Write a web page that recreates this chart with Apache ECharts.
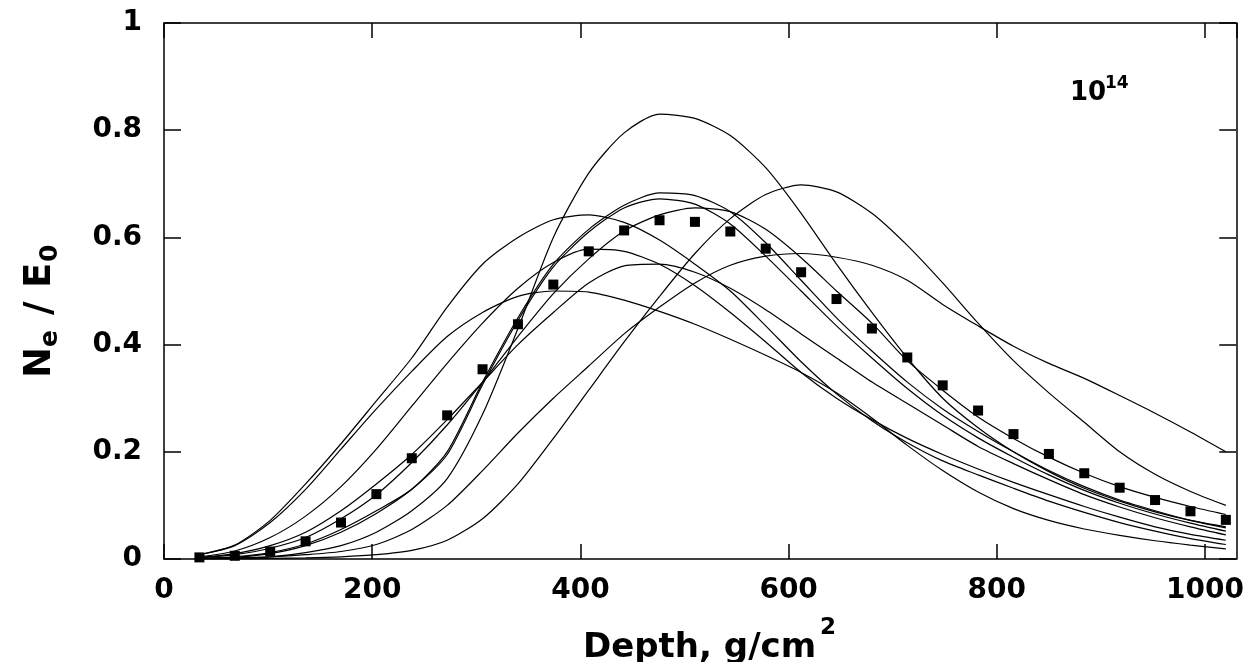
<!DOCTYPE html>
<html><head><meta charset="utf-8">
<script src="https://cdn.jsdelivr.net/npm/echarts@6/dist/echarts.min.js"></script>
<style>html,body{margin:0;padding:0;background:#fff}#c{width:1247px;height:662px}</style>
</head><body><div id="c"></div>
<script>
// depth grid, g/cm^2
const depth = [34,68,102,136,170,204,238,272,306,340,374,408,442,476,510,544,578,612,646,680,714,748,782,816,850,884,918,952,986,1020];
// square markers
const squares = [0.003,0.006,0.014,0.033,0.068,0.121,0.188,0.268,0.354,0.438,0.512,0.574,0.613,0.632,0.629,0.611,0.579,0.535,0.485,0.430,0.376,0.324,0.277,0.233,0.196,0.160,0.133,0.110,0.089,0.073];
// thin curves
const curveA = [0,0.001,0.004,0.012,0.025,0.05,0.09,0.15,0.27,0.43,0.6,0.72,0.795,0.83,0.822,0.79,0.73,0.645,0.55,0.46,0.375,0.3,0.245,0.2,0.163,0.132,0.108,0.088,0.072,0.06];
const curveB = [0,0,0.001,0.002,0.004,0.008,0.016,0.035,0.075,0.14,0.225,0.315,0.405,0.49,0.57,0.635,0.68,0.698,0.685,0.645,0.585,0.515,0.44,0.37,0.31,0.255,0.2,0.158,0.126,0.10];
const curveC = [0.001,0.004,0.012,0.028,0.055,0.09,0.13,0.2,0.33,0.45,0.55,0.615,0.66,0.683,0.678,0.648,0.59,0.52,0.45,0.388,0.33,0.28,0.238,0.2,0.165,0.135,0.11,0.09,0.072,0.058];
const curveD = [0.001,0.003,0.01,0.025,0.05,0.085,0.13,0.195,0.325,0.445,0.545,0.61,0.655,0.672,0.662,0.625,0.565,0.5,0.435,0.375,0.318,0.268,0.226,0.19,0.157,0.128,0.104,0.084,0.067,0.052];
const curveE = [0.002,0.008,0.02,0.04,0.075,0.12,0.18,0.25,0.33,0.415,0.495,0.56,0.612,0.642,0.655,0.648,0.615,0.562,0.5,0.44,0.37,0.315,0.265,0.225,0.19,0.16,0.135,0.115,0.098,0.083];
const curveF = [0.008,0.026,0.072,0.14,0.215,0.295,0.375,0.47,0.55,0.6,0.633,0.642,0.628,0.595,0.55,0.5,0.435,0.368,0.308,0.258,0.217,0.183,0.157,0.132,0.108,0.087,0.068,0.052,0.038,0.027];
const curveG = [0.004,0.015,0.04,0.08,0.135,0.205,0.285,0.365,0.44,0.505,0.553,0.578,0.574,0.55,0.51,0.46,0.405,0.348,0.3,0.26,0.225,0.195,0.168,0.143,0.12,0.098,0.078,0.06,0.046,0.035];
const curveH = [0.001,0.002,0.004,0.008,0.014,0.027,0.055,0.1,0.165,0.235,0.3,0.36,0.42,0.47,0.515,0.548,0.565,0.57,0.563,0.548,0.52,0.475,0.435,0.397,0.365,0.337,0.305,0.272,0.237,0.2];
const curveI = [0.003,0.01,0.025,0.05,0.09,0.14,0.195,0.26,0.33,0.4,0.46,0.515,0.547,0.55,0.535,0.505,0.465,0.42,0.375,0.33,0.29,0.25,0.21,0.178,0.148,0.12,0.097,0.077,0.06,0.045];
const curveJ = [0.008,0.025,0.068,0.13,0.205,0.28,0.35,0.415,0.46,0.49,0.5,0.498,0.483,0.462,0.438,0.41,0.38,0.348,0.31,0.263,0.212,0.165,0.125,0.094,0.072,0.056,0.044,0.034,0.026,0.019];
const xTicks = [0,200,400,600,800,1000];
const yTicks = [0,0.2,0.4,0.6,0.8,1];

const curves = [curveA,curveB,curveC,curveD,curveE,curveF,curveG,curveH,curveI,curveJ];
const pairs = arr => depth.map((d,i)=>[d,arr[i]]);
const FONT = 'DejaVu Sans';

const series = curves.map(c => ({
  type:'line', data:pairs(c), showSymbol:false, smooth:0.25,
  lineStyle:{color:'#000', width:1.2}, silent:true, z:2
}));
series.push({type:'scatter', data:pairs(squares), symbol:'rect', symbolSize:10,
  itemStyle:{color:'#000', opacity:1}, z:3});

const axisCommon = {
  axisLine:{show:true, onZero:false, lineStyle:{color:'#000', width:1.5}},
  splitLine:{show:false}
};
const chart = echarts.init(document.getElementById('c'), null, {renderer:'canvas'});
chart.setOption({
  animation:false,
  backgroundColor:'#fff',
  grid:{left:164, right:9, top:23, bottom:103},
  xAxis:[
    Object.assign({type:'value', position:'bottom', min:0, max:1030, interval:200,
      axisTick:{show:true, inside:true, length:15, lineStyle:{color:'#000', width:1.5}},
      axisLabel:{show:true, margin:18, color:'#000', fontFamily:FONT, fontWeight:'bold', fontSize:28,
        showMaxLabel:false,
        formatter:v => xTicks.includes(v) ? String(v) : ''}}, axisCommon),
    Object.assign({type:'value', position:'top', min:0, max:1030, interval:200,
      axisTick:{show:true, inside:true, length:15, lineStyle:{color:'#000', width:1.5}},
      axisLabel:{show:false}}, axisCommon)
  ],
  yAxis:[
    Object.assign({type:'value', position:'left', min:0, max:1, interval:0.2,
      axisTick:{show:true, inside:true, length:17, lineStyle:{color:'#000', width:1.5}},
      axisLabel:{show:true, margin:22, color:'#000', fontFamily:FONT, fontWeight:'bold', fontSize:28,
        formatter:v => { const t = yTicks.find(y=>Math.abs(y-v)<1e-9); return t===undefined?'':String(t); }}}, axisCommon),
    Object.assign({type:'value', position:'right', min:0, max:1, interval:0.2,
      axisTick:{show:true, inside:true, length:17, lineStyle:{color:'#000', width:1.5}},
      axisLabel:{show:false}}, axisCommon)
  ],
  series:series,
  graphic:[
    {type:'text', left:1070, top:80, style:{text:'10', font:'bold 26px "DejaVu Sans"', fill:'#000'}},
    {type:'text', left:1105, top:75, style:{text:'14', font:'bold 17px "DejaVu Sans"', fill:'#000'}},
    {type:'text', left:583, top:631, style:{text:'Depth, g/cm', font:'bold 34px "DejaVu Sans"', fill:'#000'}},
    {type:'text', left:820, top:617, style:{text:'2', font:'bold 23px "DejaVu Sans"', fill:'#000'}},
    {type:'group', x:40, y:378, rotation:Math.PI/2, children:[
      {type:'text', x:0, y:0, style:{text:'N', font:'bold 37px "DejaVu Sans"', fill:'#000', verticalAlign:'middle'}},
      {type:'text', x:31, y:10, style:{text:'e', font:'bold 25px "DejaVu Sans"', fill:'#000', verticalAlign:'middle'}},
      {type:'text', x:50, y:0, style:{text:' / ', font:'bold 37px "DejaVu Sans"', fill:'#000', verticalAlign:'middle'}},
      {type:'text', x:90, y:0, style:{text:'E', font:'bold 37px "DejaVu Sans"', fill:'#000', verticalAlign:'middle'}},
      {type:'text', x:116, y:10, style:{text:'0', font:'bold 25px "DejaVu Sans"', fill:'#000', verticalAlign:'middle'}}
    ]}
  ]
});
</script></body></html>
